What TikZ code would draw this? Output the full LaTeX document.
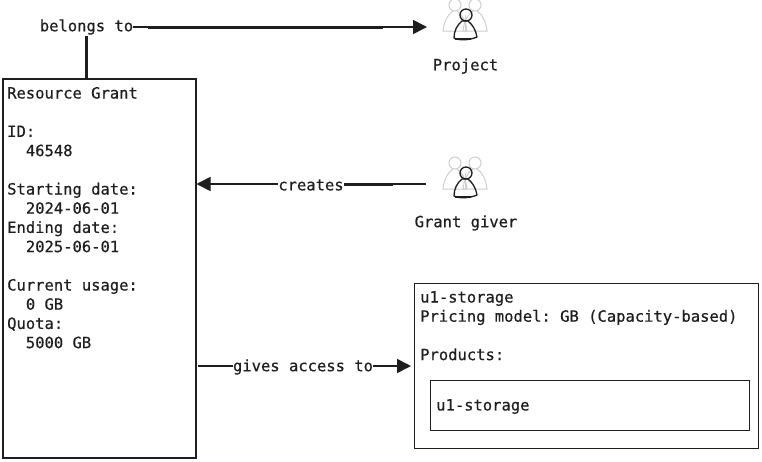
\documentclass[tikz,border=0pt]{standalone}
\usepackage{fontspec}
\setmonofont[FakeBold=0.4]{DejaVu Sans Mono}
\usetikzlibrary{arrows.meta,calc}
\definecolor{ink}{HTML}{1E1E1E}
\definecolor{ghost}{HTML}{CFCFCF}
\tikzset{
  x=1pt,y=-1pt,
  every node/.style={font=\ttfamily\fontsize{15.5}{19.2}\selectfont,text=ink,inner sep=0pt},
  box/.style={draw=ink,line width=2pt,fill=white,anchor=north west},
  innerbox/.style={draw=ink,line width=1pt,fill=white,anchor=north west},
  txt/.style={anchor=north west,align=left},
  lbl/.style={inner xsep=0pt,inner ysep=1pt},
  conn/.style={draw=ink,line width=1.6pt},
  thick part/.style={draw=ink,line width=3pt},
  arr/.style={conn,-{Triangle[length=14pt,width=14pt]}},
  ghostline/.style={draw=ghost,line width=1pt},
  inkline/.style={draw=ink,line width=1.3pt,line join=round},
  person/.pic={
    \foreach \dx in {-10,10}{
      \draw[ghostline] (\dx,-13) circle[radius=6];
      \draw[ghostline] (\dx-2,-7) .. controls (\dx-8,-3) and (\dx-11,4) .. (\dx-12,13) -- (\dx+12,13) .. controls (\dx+11,4) and (\dx+8,-3) .. (\dx+2,-7);
    }
    \draw[ghostline] (0,-3) -- (0,13);
    \draw[inkline] (1,-3) circle[radius=6];
    \draw[inkline] (-3,3) .. controls (-8,7) and (-11,13) .. (-11,20) .. controls (-5,23) and (5,22) .. (12,19) .. controls (11,12) and (7,6) .. (3,3) -- cycle;
    \draw[draw=ink,line width=2pt] (-10,21) -- (6,21);
  },
}
\begin{document}
\begin{tikzpicture}
\useasboundingbox (0,0) rectangle (762,461);
\fill[white] (0,0) rectangle (762,461);
% boxes
\node[box,minimum width=193pt,minimum height=379pt] (grant) at (1.5,77.5) {};
\node[box,line width=1.3pt,minimum width=344pt,minimum height=165pt] (storage) at (414,283) {};
\node[innerbox,minimum width=319pt,minimum height=50pt] (product) at (430,380) {};
% box texts
\node[txt] (granttext) at (7,86.8) {Resource Grant\\[19.2pt]ID:\\\hspace*{18.7pt}46548\\[19.2pt]Starting date:\\\hspace*{18.7pt}2024-06-01\\Ending date:\\\hspace*{18.7pt}2025-06-01\\[19.2pt]Current usage:\\\hspace*{18.7pt}0 GB\\Quota:\\\hspace*{18.7pt}5000 GB};
\node[txt] (storagetext) at (420,291) {u1-storage\\Pricing model: GB (Capacity-based)\\[19.2pt]Products:};
\node[anchor=west] (producttext) at (436,406.5) {u1-storage};
% actors
\pic at (465,18) {person};
\pic at (465,176) {person};
\node (project) at (465.5,66) {Project};
\node (giver) at (466,223) {Grant giver};
\coordinate (projectin) at (427,27);
\coordinate (giverout) at (426,184);
% connectors
\node[lbl] (belongs) at (86.5,27) {belongs to};
\node[lbl] (creates) at (311,185) {creates};
\node[lbl] (gives) at (303,367) {gives access to};
\coordinate (grantr) at (198,366);
\coordinate (storagel) at (411,366);
\draw[conn,line width=2.2pt] (belongs.south) -- (belongs.south |- grant.north);
\draw[arr] (belongs.east |- projectin) -- (projectin);
\draw[thick part] ($(belongs.east |- projectin)!0.05!(projectin)$) -- ($(belongs.east |- projectin)!0.85!(projectin)$);
\draw[conn] (giverout) -- (creates.east |- giverout);
\draw[thick part] ($(giverout)!0.4!(creates.east |- giverout)$) -- (creates.east |- giverout);
\draw[arr] (creates.west |- giverout) -- (giverout -| grant.east);
\draw[conn] (grantr) -- (gives.west |- grantr);
\draw[arr] (gives.east |- storagel) -- (storagel);
\end{tikzpicture}
\end{document}
